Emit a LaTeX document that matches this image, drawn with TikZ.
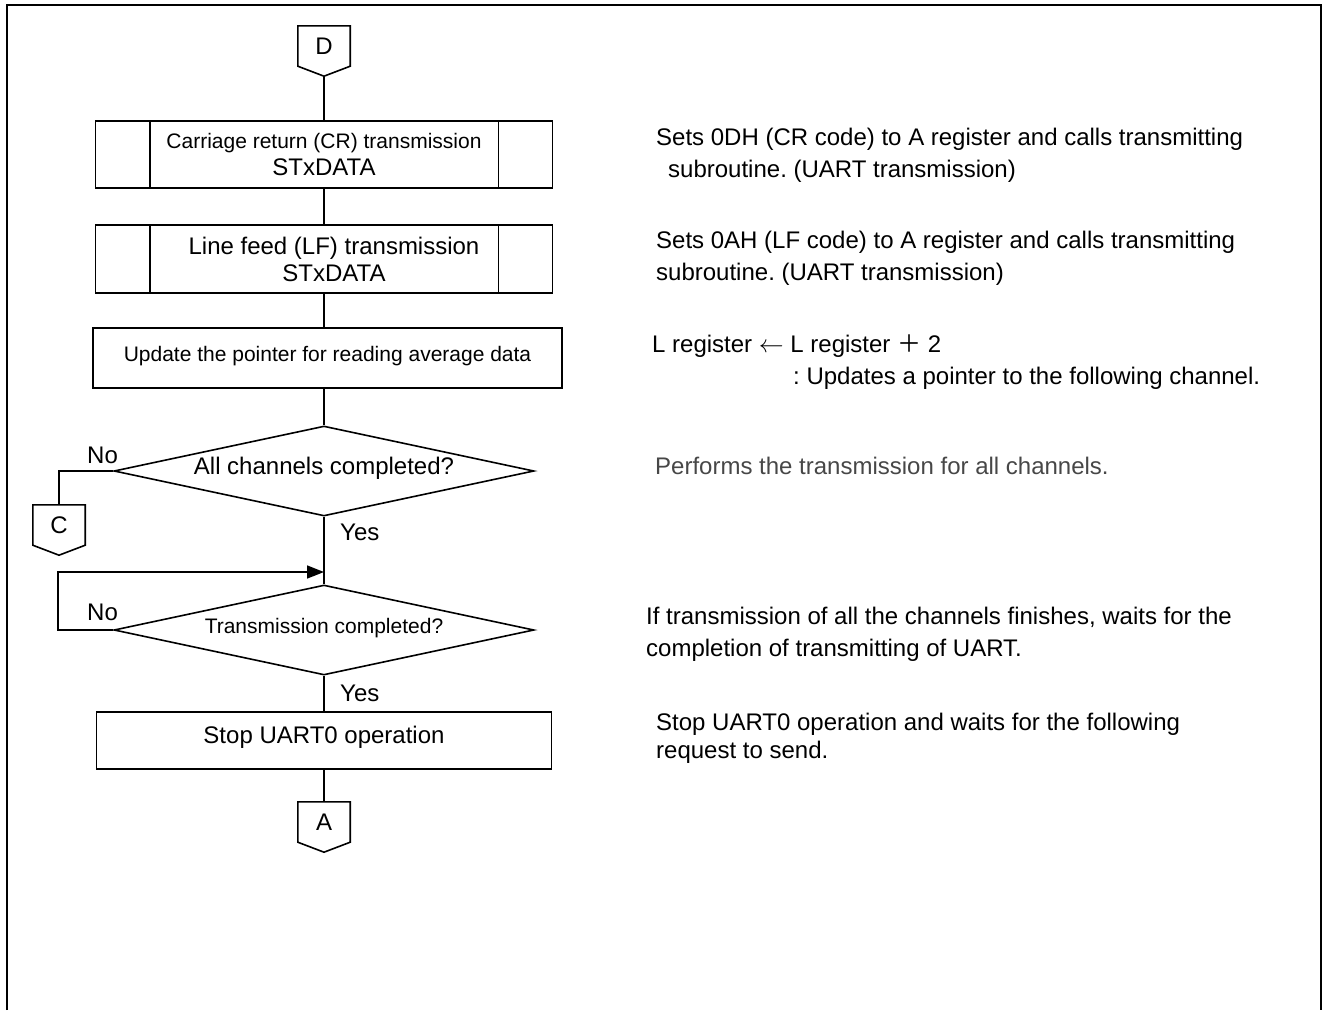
\documentclass[tikz,border=0pt]{standalone}
\usepackage{fontspec}
\setmainfont{Liberation Sans}
\newfontfamily\cjk{Noto Sans CJK SC}
\usetikzlibrary{shapes.geometric,arrows.meta}
\frenchspacing

\tikzset{
	flow/.style={line width=1.6pt},
	proc/.style={shape=rectangle, draw=black, line width=1.6pt, inner sep=0pt, text height=12pt, text depth=6pt},
	subproc/.style={shape=rectangle, draw=black, line width=1.6pt, inner sep=0pt, align=center, font=\fontsize{24}{27}\selectfont},
	decision/.style={shape=diamond, draw=black, line width=1.6pt, aspect=4.67, minimum width=420pt, minimum height=90pt, inner sep=0pt, text height=12pt, text depth=6pt},
	offpage/.style={minimum width=52pt, minimum height=40pt, inner sep=0pt},
	lbl/.style={anchor=base west, inner sep=0pt},
	note/.style={anchor=base west, align=left, inner sep=0pt, font=\fontsize{24}{32}\selectfont}
}

\begin{document}
\begin{tikzpicture}[x=1pt, y=-1pt, font=\fontsize{24}{28}\selectfont]
		\useasboundingbox (0,0) rectangle (1328,1010);
		\draw[line width=2pt] (7,1010) -- (7,5) -- (1321,5) -- (1321,1010);
		
		% flow
		\node[offpage] (D) at (324,46) {D};
		\node[subproc, minimum width=457pt, minimum height=67pt] (crtx) at (324,154.5) {{\fontsize{21}{27}\selectfont Carriage return (CR) transmission}\\STxDATA};
		\node[subproc, minimum width=457pt, minimum height=68pt] (lftx) at (324,259) {\hspace*{20pt}Line feed (LF) transmission\\\hspace*{20pt}STxDATA};
		\node[proc, minimum width=469pt, minimum height=60pt, font=\fontsize{21}{25}\selectfont] (ptrupd) at (327.5,358) {Update the pointer for reading average data};
		\node[decision] (allch) at (324,471) {All channels completed?};
		\node[offpage] (C) at (59,525) {C};
		\coordinate (loopin) at (324,572);
		\node[decision, font=\fontsize{21}{25}\selectfont] (txdone) at (324,630) {Transmission completed?};
		\node[proc, minimum width=455pt, minimum height=57pt] (uartstop) at (324,740.5) {Stop UART0 operation};
		\node[offpage] (A) at (324,822) {A};
		
		\foreach \c in {D,C,A}
			\draw[flow] (\c.north west) -- (\c.north east) -- (\c.south east) -- ([yshift=-10pt]\c.south) -- (\c.south west) -- cycle;
		\foreach \b in {crtx,lftx} {
			\draw[flow] ([xshift=55pt]\b.north west) -- ([xshift=55pt]\b.south west);
			\draw[flow] ([xshift=-55pt]\b.north east) -- ([xshift=-55pt]\b.south east);
		}
		
		\draw[flow] ([yshift=-10pt]D.south) -- (crtx.north);
		\draw[flow] (crtx.south) -- (lftx.north);
		\draw[flow] (lftx.south) -- (lftx.south |- ptrupd.north);
		\draw[flow] (allch.north |- ptrupd.south) -- (allch.north);
		\draw[flow] (allch.west) -| (C.north);
		\draw[flow] (allch.south) -- (txdone.north);
		\draw[flow, -{Triangle[length=17pt,width=13pt]}] (txdone.west) -- ++(-55,0) |- (loopin);
		\draw[flow] (txdone.south) -- (uartstop.north);
		\draw[flow] (uartstop.south) -- (A.north);
		
		\node[lbl] (no1) at (87,463) {No};
		\node[lbl] (yes1) at (340,540) {Yes};
		\node[lbl] (no2) at (87,620) {No};
		\node[lbl] (yes2) at (340,701) {Yes};
		
		% comments on the right (base = last line)
		\node[note] (n1) at (656,177) {Sets 0DH (CR code) to A register and calls transmitting\\\hspace*{12pt}subroutine. (UART transmission)};
		\node[note] (n2) at (656,280) {Sets 0AH (LF code) to A register and calls transmitting\\subroutine. (UART transmission)};
		\node[note] (n3) at (652,384) {L register $\leftarrow$ L register {\cjk ＋} 2\\\hspace*{141pt}: Updates a pointer to the following channel.};
		\node[note, text=black!72] (n4) at (655,474) {Performs the transmission for all channels.};
		\node[note] (n5) at (646,656) {If transmission of all the channels finishes, waits for the\\completion of transmitting of UART.};
		\node[note, font=\fontsize{24}{28}\selectfont] (n6) at (656,758) {Stop UART0 operation and waits for the following\\request to send.};
		
	\end{tikzpicture}
\end{document}
